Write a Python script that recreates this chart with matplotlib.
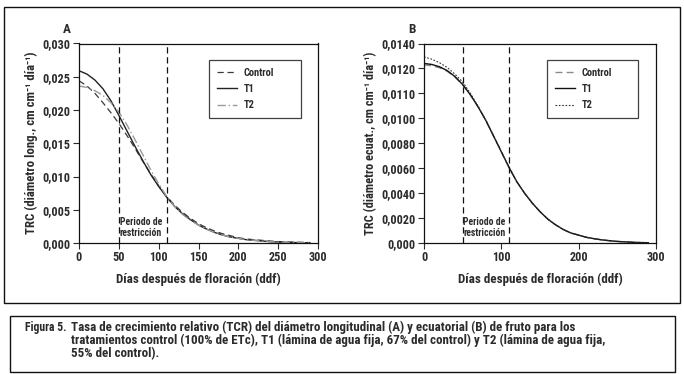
import matplotlib
matplotlib.use("Agg")
import matplotlib.pyplot as plt
from matplotlib import font_manager as fm
from matplotlib.patches import Rectangle

# ---------------- data ----------------
days = [0, 10, 20, 30, 40, 50, 60, 70, 80, 90, 100, 110, 120, 130, 140, 150,
        160, 170, 180, 190, 200, 210, 220, 230, 240, 250, 260, 270, 280, 290]

# Panel A: TRC diámetro longitudinal
a_control = [0.0244, 0.0236, 0.0225, 0.0211, 0.0196, 0.0180, 0.0162, 0.0143, 0.0123, 0.0104,
             0.0086, 0.0070, 0.0057, 0.0046, 0.0037, 0.0029, 0.0023, 0.0018, 0.0014, 0.0011,
             0.0008, 0.0006, 0.0005, 0.0004, 0.0003, 0.00022, 0.00016, 0.00012, 0.0001, 0.00008]
a_t1 = [0.0259, 0.0254, 0.0245, 0.0232, 0.0214, 0.0192, 0.0169, 0.0146, 0.0124, 0.0103,
        0.0085, 0.0069, 0.0055, 0.0044, 0.0035, 0.0027, 0.0021, 0.0016, 0.0012, 0.0009,
        0.0007, 0.0005, 0.0004, 0.0003, 0.0002, 0.00015, 0.0001, 0.00007, 0.00005, 0.00003]
a_t2 = [0.0236, 0.0234, 0.0229, 0.0222, 0.0211, 0.0197, 0.0178, 0.0156, 0.0133, 0.0110,
        0.0089, 0.0070, 0.0055, 0.0043, 0.0034, 0.0027, 0.0021, 0.0016, 0.0012, 0.0009,
        0.0007, 0.0005, 0.0004, 0.0003, 0.0002, 0.00015, 0.0001, 0.00007, 0.00005, 0.00003]

# Panel B: TRC diámetro ecuatorial
b_control = [0.01250, 0.01244, 0.01230, 0.01205, 0.01165, 0.01110, 0.01040, 0.00955, 0.00860, 0.00750,
             0.00640, 0.00530, 0.00430, 0.00350, 0.00280, 0.00220, 0.00168, 0.00128, 0.00095, 0.00070,
             0.00055, 0.00040, 0.00030, 0.00022, 0.00016, 0.00011, 0.00008, 0.00005, 0.00003, 0.00002]
b_t1 = [0.01260, 0.01253, 0.01237, 0.01210, 0.01168, 0.01112, 0.01040, 0.00955, 0.00860, 0.00750,
        0.00640, 0.00530, 0.00430, 0.00350, 0.00280, 0.00220, 0.00168, 0.00128, 0.00095, 0.00070,
        0.00055, 0.00040, 0.00030, 0.00022, 0.00016, 0.00011, 0.00008, 0.00005, 0.00003, 0.00002]
b_t2 = [0.01306, 0.01290, 0.01265, 0.01232, 0.01185, 0.01130, 0.01050, 0.00960, 0.00862, 0.00752,
        0.00641, 0.00530, 0.00430, 0.00350, 0.00280, 0.00220, 0.00168, 0.00128, 0.00095, 0.00070,
        0.00055, 0.00040, 0.00030, 0.00022, 0.00016, 0.00011, 0.00008, 0.00005, 0.00003, 0.00002]

restriction = [50, 110]

a_xticks = [0, 50, 100, 150, 200, 250, 300]
a_yticks = [0.0, 0.005, 0.010, 0.015, 0.020, 0.025, 0.030]
a_ylabels = ["0,000", "0,005", "0,010", "0,015", "0,020", "0,025", "0,030"]
b_xticks = [0, 100, 200, 300]
b_yticks = [0.0, 0.00175, 0.0035, 0.00525, 0.007, 0.00875, 0.0105, 0.01225, 0.014]
b_ylabels = ["0,000", "0,0020", "0,0040", "0,0060", "0,0080", "0,0100", "0,0110", "0,0120", "0,0140"]

labels = ["Control", "T1", "T2"]

caption_head = "Figura 5."
caption_lines = [
    "Tasa de crecimiento relativo (TCR) del diámetro longitudinal (A) y ecuatorial (B) de fruto para los",
    "tratamientos control (100% de ETc), T1 (lámina de agua fija, 67% del control) y T2 (lámina de agua fija,",
    "55% del control).",
]

# ---------------- fonts ----------------
names = {f.name for f in fm.fontManager.ttflist}
cond = [n for n in ["Liberation Sans Narrow", "Roboto Condensed", "Open Sans Condensed"] if n in names]
FAM = cond + ["DejaVu Sans"]
plt.rcParams["font.family"] = FAM
plt.rcParams["font.weight"] = "bold"
plt.rcParams["axes.labelweight"] = "bold"
plt.rcParams["font.stretch"] = "condensed"
TC = "#2b2b2b"
BW = "bold"

W, H = 684, 374
fig = plt.figure(figsize=(W / 100, H / 100), dpi=100)
renderer = fig.canvas.get_renderer()

def fx(px):
    return px / W

def fy(py):
    return 1 - py / H

def fit_width(txt, target_px):
    w = txt.get_window_extent(renderer).width
    if w > 0:
        txt.set_fontsize(txt.get_fontsize() * target_px / w)

# outer frames
fig.patches.append(Rectangle((fx(3.5), fy(303)), fx(680) - fx(3.5), fy(7) - fy(303),
                             transform=fig.transFigure, fill=False, lw=1.0, ec="#111111"))
fig.patches.append(Rectangle((fx(10), fy(372)), fx(675) - fx(10), fy(316) - fy(372),
                             transform=fig.transFigure, fill=False, lw=1.0, ec="#111111"))

styles = {
    "A": [dict(color="#3a3a3a", lw=0.9, ls=(0, (5, 3))),
          dict(color="#222222", lw=1.0, ls="-"),
          dict(color="#9a9a9a", lw=1.0, ls=(0, (6, 2, 1, 2)))],
    "B": [dict(color="#8a8a8a", lw=1.0, ls=(0, (5, 3))),
          dict(color="#111111", lw=1.0, ls="-"),
          dict(color="#333333", lw=0.8, ls=(0, (1.5, 1.5)))],
}

def panel(rect, series, xticks, yticks, ylabels, ylim, ylabel, letter, key, leg_rect):
    ax = fig.add_axes(rect)
    for vals, lab, st in zip(series, labels, styles[key]):
        ax.plot(days, vals, label=lab, **st)
    for r in restriction:
        ax.axvline(r, color="#111111", lw=0.9, ls=(0, (5, 3)))
    ax.set_xlim(0, 300)
    ax.set_ylim(*ylim)
    ax.set_xticks(xticks)
    ax.set_yticks(yticks)
    ax.set_yticklabels(ylabels)
    ax.tick_params(direction="out", length=4, width=0.8, labelsize=8.7, colors=TC, pad=2)
    for t in ax.get_xticklabels() + ax.get_yticklabels():
        t.set_fontweight(BW)
    for s in ax.spines.values():
        s.set_linewidth(0.9)
        s.set_color("#111111")
    ax.set_xlabel("Días después de floración (ddf)", fontsize=9, color=TC, labelpad=6,
                  fontweight=BW)
    ax.set_ylabel(ylabel, fontsize=9, color=TC, labelpad=3, fontweight=BW)
    fit_width(ax.xaxis.label, 165)
    lab = ax.yaxis.label
    h = lab.get_window_extent(renderer).height
    if h > 0:
        lab.set_fontsize(lab.get_fontsize() * 183 / h)
    ax.text(51, ylim[1] * 0.128, "Periodo de\nrestricción", fontsize=7, color=TC,
            ha="left", va="top", linespacing=1.1, fontweight=BW)
    ax.text(-0.05, 1.04, letter, transform=ax.transAxes, fontsize=9.5, color=TC,
            ha="center", va="bottom", fontweight=BW)
    lx0, ly0, lx1, ly1 = leg_rect
    leg = ax.legend(loc="upper left", bbox_to_anchor=(lx0, ly0, lx1 - lx0, ly1 - ly0),
                    mode="expand", frameon=True, fancybox=False,
                    prop={"size": 7.5, "weight": BW},
                    handlelength=1.9, handletextpad=0.7, labelspacing=0.6,
                    borderpad=0.75, borderaxespad=0)
    leg.get_frame().set_edgecolor("#111111")
    leg.get_frame().set_linewidth(0.9)
    for t in leg.get_texts():
        t.set_color(TC)
    return ax

axA = panel([fx(79), fy(243), fx(318) - fx(79), fy(43.5) - fy(243)],
            [a_control, a_t1, a_t2], a_xticks, a_yticks, a_ylabels, (0, 0.030),
            "TRC (diámetro long., cm cm⁻¹ día⁻¹)", "A", "A",
            ((209 - 79) / 239, (243 - 114) / 199.5, (301 - 79) / 239, (243 - 60) / 199.5))
axB = panel([fx(424), fy(243), fx(656) - fx(424), fy(43.5) - fy(243)],
            [b_control, b_t1, b_t2], b_xticks, b_yticks, b_ylabels, (0, 0.014),
            "TRC (diámetro ecuat., cm cm⁻¹ día⁻¹)", "B", "B",
            ((547 - 424) / 232, (243 - 114) / 199.5, (638 - 424) / 232, (243 - 60) / 199.5))

# caption: one block, left aligned at x=71
body = fig.text(fx(71), fy(320.5), "\n".join(caption_lines), fontsize=9, color=TC,
                va="top", ha="left", fontweight=BW, linespacing=1.0)
fit_width(body, 535)
head = fig.text(fx(25), fy(320.5), caption_head, fontsize=body.get_fontsize(), color=TC,
                va="top", ha="left", fontweight=BW)
fit_width(head, 42)

fig.savefig("out.png", dpi=100)
